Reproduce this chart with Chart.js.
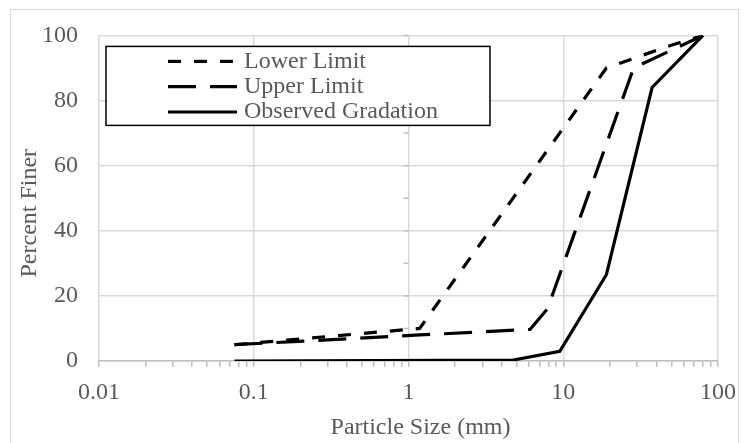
<!DOCTYPE html>
<html>
<head>
<meta charset="utf-8">
<script src="https://cdn.jsdelivr.net/npm/chart.js@4"></script>
<style>
  body { margin: 0; background: #fff; }
  #wrap { position: relative; width: 747px; height: 443px; overflow: hidden; }
  #frame { position: absolute; left: 10px; top: 9px; width: 729px; height: 460px; border: 1px solid #d9d9d9; box-sizing: border-box; }
  canvas { position: absolute; left: 0; top: 0; }
</style>
</head>
<body>
<div id="wrap">
  <div id="frame"></div>
  <canvas id="chartGradation" width="747" height="443"></canvas>
</div>
<script>
// sieve sizes (mm) and percent finer
const lowerSize = [0.075, 1.18, 19, 50, 80];
const lowerPct = [5, 10, 90, 97, 100];
const upperSize = [0.075, 1.18, 6.1, 7.9, 28.5, 80];
const upperPct = [5, 8, 9.7, 16, 90, 100];
const obsSize = [0.075, 4.75, 9.5, 19, 37.5, 80];
const obsPct = [0, 0.3, 3, 26.5, 84, 100];

const xMajor = [0.01, 0.1, 1, 10, 100];
const xLabels = ['0.01', '0.1', '1', '10', '100'];
const xMinorSteps = [2, 3, 4, 5, 6, 7, 8, 9];
const yAxisMarks = [0, 10, 20, 30, 40, 50, 60, 70, 80, 90, 100];

const seriesNames = ['Lower Limit', 'Upper Limit', 'Observed Gradation'];
const gray = '#595959';
const fontFamily = "'Liberation Serif', 'Times New Roman', serif";
const fontSize = 24;

function toPoints(xs, ys) {
  return xs.map((x, i) => ({ x: x, y: ys[i] }));
}

const xTickValues = [];
xMajor.forEach((m, i) => {
  xTickValues.push({ value: m, major: true });
  if (i < xMajor.length - 1) {
    xMinorSteps.forEach(s => xTickValues.push({ value: m * s, major: false }));
  }
});

// small ticks on the vertical axis, which crosses at x = 1
const yAxisAtOne = {
  id: 'yAxisAtOne',
  beforeDatasetsDraw(chart) {
    const { ctx, scales } = chart;
    const px = scales.x.getPixelForValue(1);
    ctx.save();
    ctx.strokeStyle = '#bfbfbf';
    ctx.lineWidth = 1.5;
    yAxisMarks.forEach(v => {
      const py = scales.y.getPixelForValue(v);
      ctx.beginPath();
      ctx.moveTo(px - 5, py);
      ctx.lineTo(px, py);
      ctx.stroke();
    });
    ctx.restore();
  }
};

// boxed legend in the upper left of the plot, plus the axis titles
const boxLegend = {
  id: 'boxLegend',
  afterDraw(chart) {
    const { ctx, chartArea } = chart;
    const bx = chartArea.left + 7, by = chartArea.top + 11;
    ctx.save();
    ctx.fillStyle = '#fff';
    ctx.fillRect(bx, by, 384, 79);
    ctx.strokeStyle = '#000';
    ctx.lineWidth = 1.5;
    ctx.strokeRect(bx, by, 384, 79);
    ctx.font = fontSize + 'px ' + fontFamily;
    ctx.textBaseline = 'middle';
    chart.data.datasets.forEach((ds, i) => {
      const ry = by + 15 + i * 25.3;
      ctx.beginPath();
      ctx.setLineDash(ds.borderDash || []);
      ctx.strokeStyle = ds.borderColor;
      ctx.lineWidth = ds.borderWidth;
      ctx.moveTo(bx + 62, ry);
      ctx.lineTo(bx + 131, ry);
      ctx.stroke();
      ctx.setLineDash([]);
      ctx.fillStyle = gray;
      ctx.textAlign = 'left';
      ctx.fillText(ds.label, bx + 138, ry);
    });

    ctx.fillStyle = gray;
    ctx.textAlign = 'center';
    ctx.fillText('Particle Size (mm)', (chartArea.left + chartArea.right) / 2 + 12, chartArea.bottom + 67);
    ctx.translate(30, (chartArea.top + chartArea.bottom) / 2 + 15);
    ctx.rotate(-Math.PI / 2);
    ctx.fillText('Percent Finer', 0, 0);
    ctx.restore();
  }
};

const ctxGrad = document.getElementById('chartGradation');
new Chart(ctxGrad, {
  type: 'scatter',
  data: {
    datasets: [
      { label: seriesNames[0], data: toPoints(lowerSize, lowerPct), borderColor: '#000', borderWidth: 3.2, borderDash: [13, 13] },
      { label: seriesNames[1], data: toPoints(upperSize, upperPct), borderColor: '#000', borderWidth: 3.2, borderDash: [28, 14] },
      { label: seriesNames[2], data: toPoints(obsSize, obsPct), borderColor: '#000', borderWidth: 3.2 }
    ].map(ds => Object.assign(ds, { showLine: true, pointRadius: 0, pointHoverRadius: 0, fill: false, tension: 0 }))
  },
  options: {
    responsive: false,
    animation: false,
    layout: { padding: { left: 0, top: 23, right: 28, bottom: 0 } },
    plugins: { legend: { display: false }, tooltip: { enabled: false } },
    scales: {
      x: {
        type: 'logarithmic',
        min: 0.01,
        max: 100,
        afterBuildTicks: (scale) => { scale.ticks = xTickValues.map(t => ({ value: t.value, major: t.major })); },
        afterFit: (scale) => { scale.height = 82; },
        ticks: {
          autoSkip: false,
          maxRotation: 0,
          padding: 11,
          color: gray,
          font: { family: fontFamily, size: fontSize },
          callback: (v, i, ticks) => ticks[i].major ? xLabels[xMajor.indexOf(ticks[i].value)] : ''
        },
        grid: {
          color: (c) => (c.tick && c.tick.major) ? '#d9d9d9' : 'rgba(0,0,0,0)',
          tickColor: '#bfbfbf',
          tickLength: 6,
          lineWidth: 1.5
        },
        border: { color: '#bfbfbf', width: 1.5 }
      },
      y: {
        min: 0,
        max: 100,
        afterFit: (scale) => { scale.width = 99; },
        ticks: {
          stepSize: 20,
          padding: 21,
          color: gray,
          font: { family: fontFamily, size: fontSize }
        },
        grid: { color: '#d9d9d9', lineWidth: 1.5, drawTicks: false },
        border: { display: false }
      }
    }
  },
  plugins: [yAxisAtOne, boxLegend]
});
</script>
</body>
</html>
